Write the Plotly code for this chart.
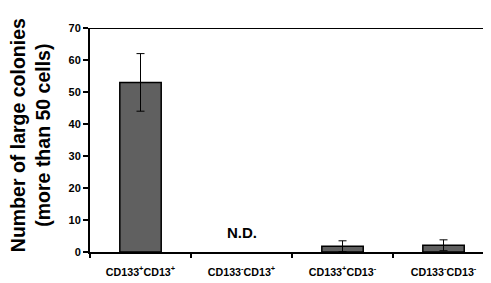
import plotly.graph_objects as go

categories = ["CD133<sup>+</sup>CD13<sup>+</sup>", "CD133<sup>-</sup>CD13<sup>+</sup>",
              "CD133<sup>+</sup>CD13<sup>-</sup>", "CD133<sup>-</sup>CD13<sup>-</sup>"]
values = [53, None, 1.8, 2.1]
errors = [9, 0, 1.7, 1.7]
y_ticks = [0, 10, 20, 30, 40, 50, 60, 70]

fig = go.Figure()
fig.add_trace(go.Bar(
    x=categories, y=values, width=0.41,
    marker=dict(color="#606060", line=dict(color="black", width=1.5)),
    error_y=dict(type="data", array=errors, color="black", thickness=1, width=4, visible=True),
))
fig.add_annotation(x=1, y=6, xref="x", yref="y", text="<b>N.D.</b>", showarrow=False,
                   font=dict(size=15, color="black", family="Liberation Sans, Arial"))
fig.add_annotation(x=-0.148, y=0.52, xref="paper", yref="paper", xanchor="center", yanchor="middle",
                   text="<b>Number of large colonies<br>(more than 50 cells)</b>", textangle=-90,
                   showarrow=False, font=dict(size=19.5, color="black", family="Liberation Sans, Arial"))

fig.update_layout(
    width=483, height=275,
    margin=dict(l=82, r=0, t=20, b=31, autoexpand=False),
    paper_bgcolor="white", plot_bgcolor="white",
    showlegend=False,
    font=dict(family="Liberation Sans, Arial", color="black"),
    shapes=[dict(type="line", xref="paper", yref="y", x0=0, x1=1, y0=70, y1=70,
                 line=dict(color="black", width=2))],
)
fig.update_xaxes(range=[-0.5, 3.47], showline=True, linecolor="black", linewidth=2,
                 ticks="outside", tickson="boundaries", ticklen=4, tickwidth=2, tickcolor="black",
                 tickvals=categories, ticktext=[f"<b>{c}</b>" for c in categories],
                 ticklabelstandoff=9,
                 tickfont=dict(size=10.7, color="black"), showgrid=False, automargin=False)
fig.update_yaxes(range=[0, 70], tickvals=y_ticks, ticktext=[f"<b>{v}</b>" for v in y_ticks],
                 showline=True, linecolor="black", linewidth=2, ticks="outside", ticklen=5,
                 tickwidth=2, tickcolor="black", tickfont=dict(size=11, color="black"),
                 showgrid=False, zeroline=False, automargin=False)
fig.write_html("out.html")
